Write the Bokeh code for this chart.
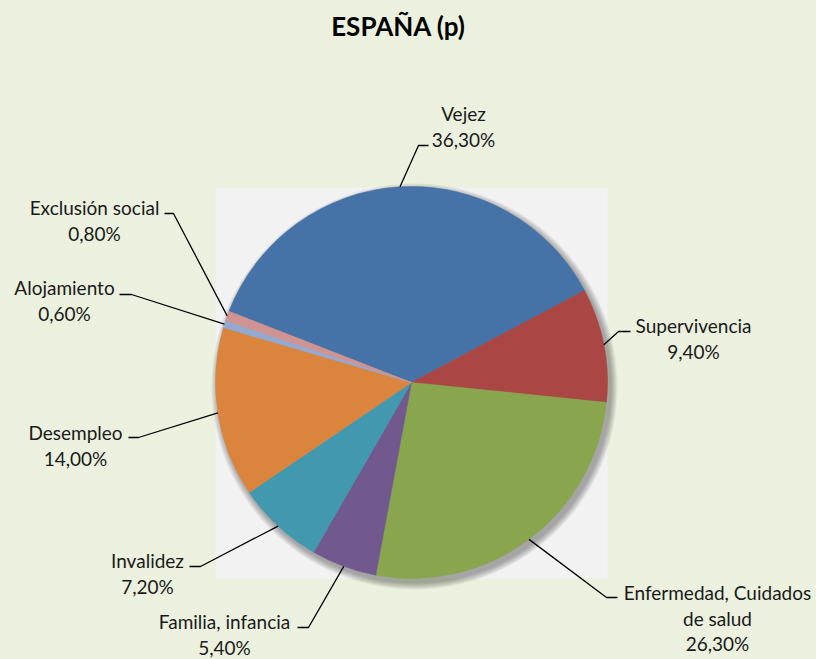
import math
from bokeh.plotting import figure
from bokeh.models import Range1d
from bokeh.core.properties import value
from bokeh.embed import file_html
from bokeh.resources import INLINE

# ---------------- data ----------------
title_text = "ESPAÑA (p)"
categories = ["Vejez", "Supervivencia", "Enfermedad, Cuidados de salud",
              "Familia, infancia", "Invalidez", "Desempleo",
              "Alojamiento", "Exclusión social"]
values = [36.3, 9.4, 26.3, 5.4, 7.2, 14.0, 0.6, 0.8]
label_lines = [["Vejez"], ["Supervivencia"], ["Enfermedad, Cuidados", "de salud"],
               ["Familia, infancia"], ["Invalidez"], ["Desempleo"],
               ["Alojamiento"], ["Exclusión social"]]
colors = ["#4572A7", "#AA4643", "#89A54E", "#71588F",
          "#4198AF", "#DB843D", "#93A9CF", "#D19392"]

# ---------------- layout (page pixels) ----------------
BG = "#EBF1DE"
PLOT_BG = "#F2F2F2"
CX, CY, R = 411, 382, 196
START_DEG = -68.7          # clockwise from 12 o'clock where first slice starts
FONT = "Lato"
# label centre x, first-line y, elbow (x, y), end x of horizontal tick
label_layout = [
    (463, 113, (418, 145), 428),
    (693, 325, (618, 331), 630),
    (717, 592, (606, 597), 617),
    (224, 621, (308, 627), 297),
    (147, 560, (200, 566), 189),
    (75, 432, (138, 437), 128),
    (64, 287, (131, 294), 119),
    (94, 207, (173, 213), 164),
]
LINE_H = 25.5

W, H = 816, 659
p = figure(width=W, height=H, output_backend="svg", toolbar_location=None,
           x_range=Range1d(0, W), y_range=Range1d(-H, 0),
           min_border=0, background_fill_color=BG, border_fill_color=BG)
p.axis.visible = False
p.grid.visible = False
p.outline_line_color = None

def Y(py):
    return -py

# plot area
p.quad(left=215, right=607, top=Y(187), bottom=Y(578),
       fill_color=PLOT_BG, line_color=None)

# soft shadow
for i in range(7):
    p.circle(x=CX + 3, y=Y(CY + 4), radius=R + 1 + i * 1.0,
             fill_color="#000000", fill_alpha=0.05, line_color=None)

# wedges (clockwise)
total = sum(values)
cum = 0.0
mids = []
for v, c in zip(values, colors):
    a0 = START_DEG + cum / total * 360.0
    a1 = START_DEG + (cum + v) / total * 360.0
    cum += v
    mids.append((a0 + a1) / 2)
    p.wedge(x=CX, y=Y(CY), radius=R,
            start_angle=math.radians(90 - a0), end_angle=math.radians(90 - a1),
            direction="clock", fill_color=c, line_color=c, line_width=0.5)

# leader lines and labels
for v, lines, mid, (tx, ty, (ex, ey), hx) in zip(values, label_lines, mids, label_layout):
    sx = CX + R * math.sin(math.radians(mid))
    sy = CY - R * math.cos(math.radians(mid))
    p.line(x=[sx, ex, hx], y=[Y(sy), Y(ey), Y(ey)], line_color="#000000", line_width=1.3)
    all_lines = lines + [f"{v:.2f}".replace(".", ",") + "%"]
    for k, t in enumerate(all_lines):
        p.text(x=[tx], y=[Y(ty + k * LINE_H)], text=[t], text_align="center",
               text_baseline="middle", text_font=value(FONT),
               text_font_size="19px", text_color="#1a1a1a")

# title
p.text(x=[398], y=[Y(25)], text=[title_text], text_align="center",
       text_baseline="middle", text_font=value(FONT), text_font_style="bold",
       text_font_size="26px", text_color="#000000")

html = file_html(p, INLINE)
html = html.replace("<head>", "<head><style>html,body{background:%s;}</style>" % BG, 1)
open("out.html", "w").write(html)
